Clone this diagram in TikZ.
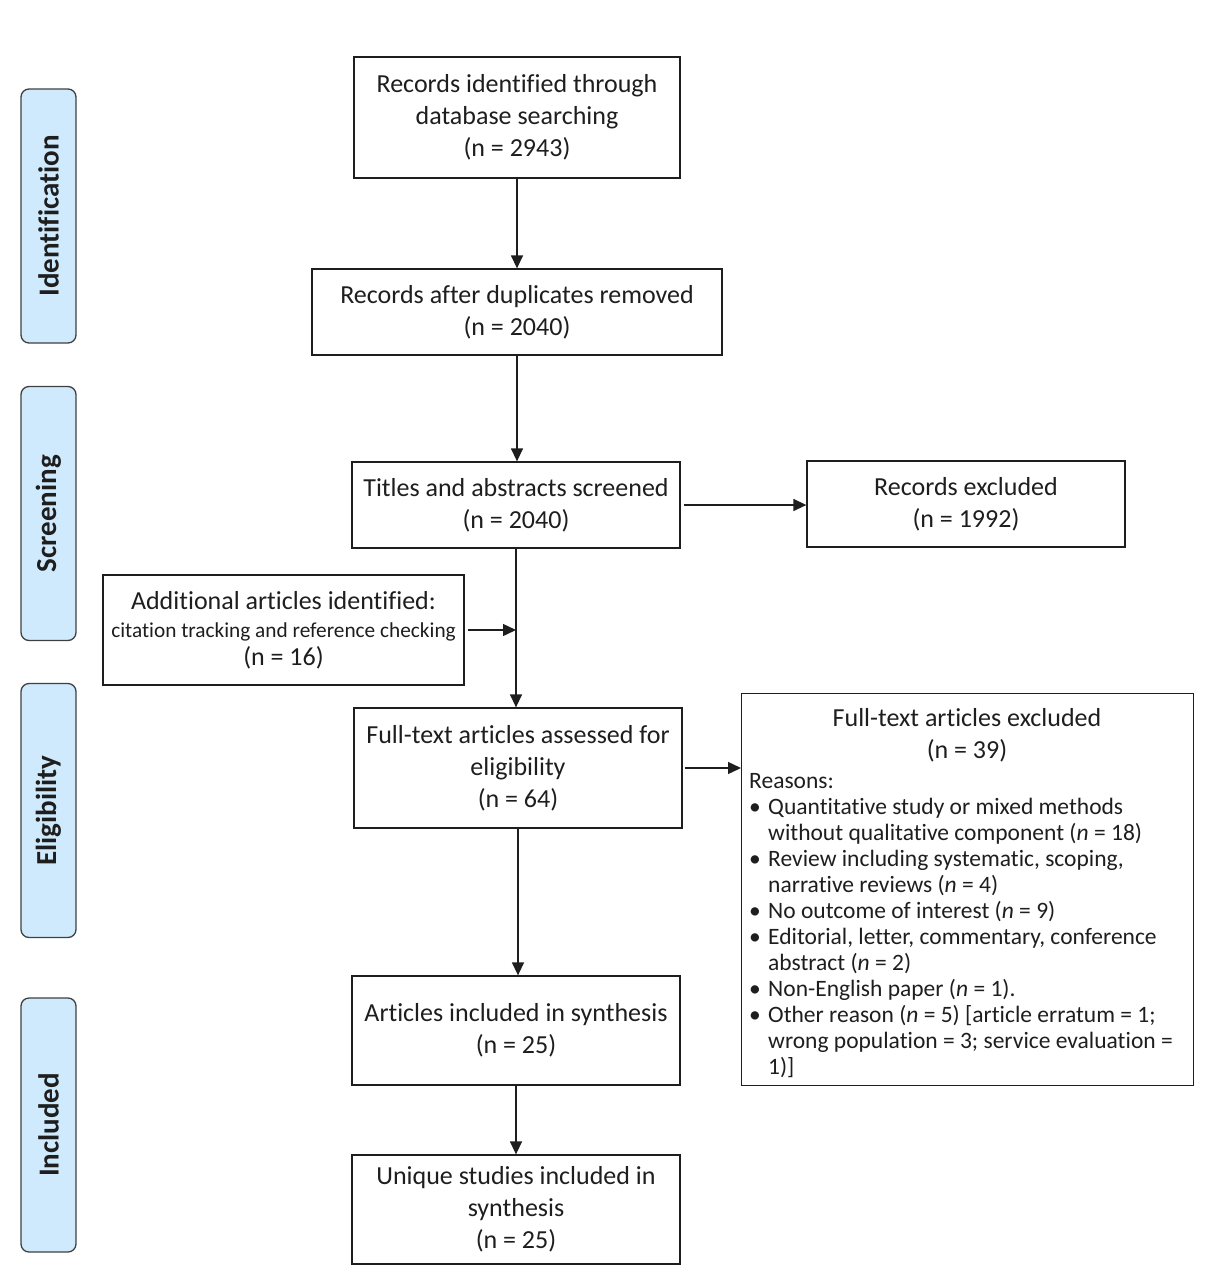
\documentclass[tikz,border=0pt]{standalone}
\usepackage{fontspec}
\setmainfont{Carlito}[Ligatures={NoCommon}]
\usetikzlibrary{arrows.meta}
\definecolor{sideblue}{RGB}{206,234,252}
\definecolor{ink}{RGB}{30,30,30}
\begin{document}
\begin{tikzpicture}[x=1pt,y=-1pt,
  box/.style={draw=ink, line width=1.3pt, align=center, inner sep=0pt, text=ink,
    font=\fontsize{26}{32}\selectfont},
  side/.style={draw=black!75, fill=sideblue, rounded corners=8pt, line width=1.3pt,
    rotate=90, minimum width=254, minimum height=55, inner sep=0pt,
    font=\fontsize{29}{32}\selectfont\bfseries, text=ink},
  arr/.style={draw=ink, line width=1.4pt, -{Triangle[length=13pt,width=12pt]}},
  small/.style={font=\fontsize{23.5}{26}\selectfont, text=ink},
]
\useasboundingbox (0,0) rectangle (1215,1280);

% side labels
\node[side] (sid) at (48.5,216) {Identification};
\node[side] (ssc) at (48.5,513.5) {Screening};
\node[side] (sel) at (48.5,810.5) {Eligibility};
\node[side] (sin) at (48.5,1125) {Included};

% main boxes
\node[box, minimum width=326, minimum height=121] (b1) at (517,117.5)
  {Records identified through\\database searching\\(n = 2943)};
\node[box, minimum width=410, minimum height=86] (b2) at (517,312)
  {Records after duplicates removed\\(n = 2040)};
\node[box, minimum width=328, minimum height=86] (b3) at (516,505)
  {Titles and abstracts screened\\(n = 2040)};
\node[box, minimum width=318, minimum height=86] (rx) at (966,504)
  {Records excluded\\(n = 1992)};
\node[box, minimum width=361, minimum height=110] (ad) at (283.5,630)
  {Additional articles identified:\\[-4pt]{\fontsize{21.3}{26}\selectfont citation tracking and reference checking}\\[-4pt](n = 16)};
\node[box, minimum width=328, minimum height=120] (ft) at (518,768)
  {Full-text articles assessed for\\eligibility\\(n = 64)};
\node[box, minimum width=452, minimum height=392, anchor=north west] (ex) at (741,693) {};
\node[box, draw=none] (ext) at (967,735) {Full-text articles excluded\\(n = 39)};
\node[small, align=left, inner sep=0pt, anchor=north west] (exr) at (749,773.5)
  {Reasons:\\
   \makebox[19pt][l]{\textbullet}Quantitative study or mixed methods\\
   \hspace*{19pt}without qualitative component (\textit{n} = 18)\\
   \makebox[19pt][l]{\textbullet}Review including systematic, scoping,\\
   \hspace*{19pt}narrative reviews (\textit{n} = 4)\\
   \makebox[19pt][l]{\textbullet}No outcome of interest (\textit{n} = 9)\\
   \makebox[19pt][l]{\textbullet}Editorial, letter, commentary, conference\\
   \hspace*{19pt}abstract (\textit{n} = 2)\\
   \makebox[19pt][l]{\textbullet}Non-English paper (\textit{n} = 1).\\
   \makebox[19pt][l]{\textbullet}Other reason (\textit{n} = 5) [article erratum = 1;\\
   \hspace*{19pt}wrong population = 3; service evaluation =\\
   \hspace*{19pt}1)]};
\node[box, minimum width=328, minimum height=109] (ar) at (516,1030.5)
  {Articles included in synthesis\\(n = 25)};
\node[box, minimum width=328, minimum height=109] (un) at (516,1209.5)
  {Unique studies included in\\synthesis\\(n = 25)};

% connectors
\coordinate (j) at (ad.east -| b3.south);
\draw[arr] ([yshift=2pt]b1.south) -- (b1.south |- b2.north);
\draw[arr] ([yshift=2pt]b2.south) -- (b2.south |- b3.north);
\draw[arr] ([xshift=3pt]b3.east) -- (b3.east -| rx.west);
\draw[arr] ([yshift=2pt]b3.south) -- (b3.south |- ft.north);
\draw[arr] ([xshift=3pt]ad.east) -- (j);
\draw[arr] ([xshift=2pt]ft.east) -- (ft.east -| ex.west);
\draw[arr] ([yshift=2pt]ft.south) -- (ft.south |- ar.north);
\draw[arr] ([yshift=2pt]ar.south) -- (ar.south |- un.north);
\end{tikzpicture}
\end{document}
